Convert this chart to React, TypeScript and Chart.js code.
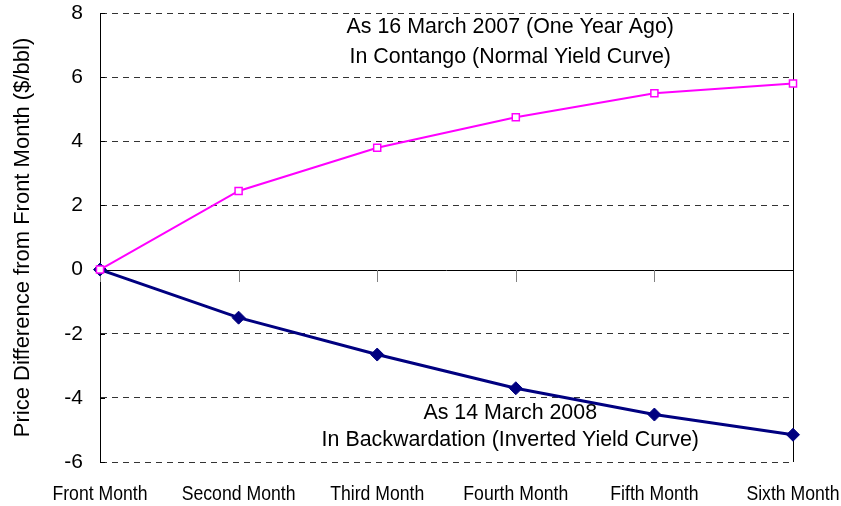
import React, { useEffect, useRef } from "react";
import { Chart, registerables } from "chart.js";

Chart.register(...registerables);

const categories = ["Front Month", "Second Month", "Third Month", "Fourth Month", "Fifth Month", "Sixth Month"];
const contango2007 = [0, 2.45, 3.8, 4.75, 5.5, 5.8];
const backwardation2008 = [0, -1.5, -2.65, -3.7, -4.52, -5.15];
const yTicks = [8, 6, 4, 2, 0, -2, -4, -6];
const noteTop = ["As 16 March 2007 (One Year Ago)", "In Contango (Normal Yield Curve)"];
const noteBottom = ["As 14 March 2008", "In Backwardation (Inverted Yield Curve)"];

const FONT = "'Liberation Sans', Arial, sans-serif";

const overlay = {
  id: "overlay",
  beforeDatasetsDraw(chart: any) {
    const { ctx, chartArea, scales } = chart;
    const x = scales.x;
    const y = scales.y;
    const y0 = Math.round(y.getPixelForValue(0));
    ctx.save();
    ctx.lineWidth = 1;
    // inward y tick marks
    ctx.strokeStyle = "#000000";
    yTicks.forEach((v) => {
      const py = Math.round(y.getPixelForValue(v)) + 0.5;
      ctx.beginPath();
      ctx.moveTo(chartArea.left, py);
      ctx.lineTo(chartArea.left + 5, py);
      ctx.stroke();
    });
    // zero axis line
    ctx.beginPath();
    ctx.moveTo(chartArea.left, y0 + 0.5);
    ctx.lineTo(chartArea.right, y0 + 0.5);
    ctx.stroke();
    // tick marks on zero line
    ctx.strokeStyle = "#808080";
    categories.forEach((_, i) => {
      const px = Math.round(x.getPixelForValue(i)) + 0.5;
      ctx.beginPath();
      ctx.moveTo(px, y0);
      ctx.lineTo(px, y0 + 12);
      ctx.stroke();
    });
    // right border
    ctx.strokeStyle = "#000000";
    ctx.beginPath();
    ctx.moveTo(Math.round(chartArea.right) + 0.5, chartArea.top);
    ctx.lineTo(Math.round(chartArea.right) + 0.5, chartArea.bottom);
    ctx.stroke();
    ctx.restore();
  },
  afterDatasetsDraw(chart: any) {
    const { ctx, scales, chartArea } = chart;
    const x = scales.x;
    const y = scales.y;
    ctx.save();
    ctx.fillStyle = "#000000";
    ctx.font = "21.4px " + FONT;
    ctx.textAlign = "center";
    ctx.textBaseline = "middle";
    const cx = x.getPixelForValue(2.96);
    ctx.fillText(noteTop[0], cx, y.getPixelForValue(7.55));
    ctx.fillText(noteTop[1], cx, y.getPixelForValue(6.62));
    ctx.fillText(noteBottom[0], cx, y.getPixelForValue(-4.47));
    ctx.fillText(noteBottom[1], cx, y.getPixelForValue(-5.31));
    // category labels, narrow
    ctx.font = "21px " + FONT;
    const ly = chartArea.bottom + 32;
    categories.forEach((c, i) => {
      const px = x.getPixelForValue(i);
      ctx.save();
      ctx.translate(px, ly);
      ctx.scale(0.84, 1);
      ctx.fillText(c, 0, 0);
      ctx.restore();
    });
    ctx.restore();
  },
};

export default function App() {
  const ref = useRef<HTMLCanvasElement>(null);
  useEffect(() => {
    if (!ref.current) return;
    const chart = new Chart(ref.current, {
      type: "line",
      data: {
        labels: categories,
        datasets: [
          {
            label: "As 16 March 2007",
            data: contango2007,
            borderColor: "#FF00FF",
            backgroundColor: "#FFFFFF",
            borderWidth: 2,
            pointStyle: "rect",
            pointRadius: 5,
            pointBorderWidth: 1.5,
            pointBorderColor: "#FF00FF",
            pointBackgroundColor: "#FFFFFF",
            tension: 0,
          },
          {
            label: "As 14 March 2008",
            data: backwardation2008,
            borderColor: "#000080",
            backgroundColor: "#000080",
            borderWidth: 3,
            pointStyle: "rectRot",
            pointRadius: 6.5,
            pointBorderWidth: 1,
            pointBorderColor: "#000080",
            pointBackgroundColor: "#000080",
            tension: 0,
          },
        ],
      },
      options: {
        animation: false,
        responsive: false,
        maintainAspectRatio: false,
        layout: { padding: { top: 0, right: 48, bottom: 0, left: 0 } },
        plugins: { legend: { display: false }, tooltip: { enabled: false } },
        scales: {
          x: {
            type: "category",
            offset: false,
            grid: { display: false, drawTicks: false },
            border: { display: false },
            ticks: { display: false },
            afterFit: (axis: any) => {
              axis.height = 44;
            },
          },
          y: {
            min: -6,
            max: 8,
            afterBuildTicks: (axis: any) => {
              axis.ticks = yTicks.map((v) => ({ value: v }));
            },
            afterFit: (axis: any) => {
              axis.width = 100;
              axis.paddingTop = 13;
            },
            grid: {
              color: (c: any) => (c.tick && c.tick.value === 0 ? "rgba(0,0,0,0)" : "#333333"),
              drawTicks: false,
              lineWidth: 1,
            },
            border: { display: true, color: "#000000", width: 1, dash: [6, 5] },
            ticks: {
              color: "#000000",
              padding: 17,
              font: { family: FONT, size: 21 },
            },
            title: {
              display: true,
              text: "Price Difference from Front Month ($/bbl)",
              color: "#000000",
              padding: { top: 10, bottom: 0 },
              font: { family: FONT, size: 22 },
            },
          },
        },
      },
      plugins: [overlay],
    } as any);
    return () => chart.destroy();
  }, []);
  return (
    <div style={{ position: "absolute", left: 0, top: 0, width: 841, height: 506, background: "#fff" }}>
      <canvas ref={ref} width={841} height={506} style={{ width: 841, height: 506 }} />
    </div>
  );
}
